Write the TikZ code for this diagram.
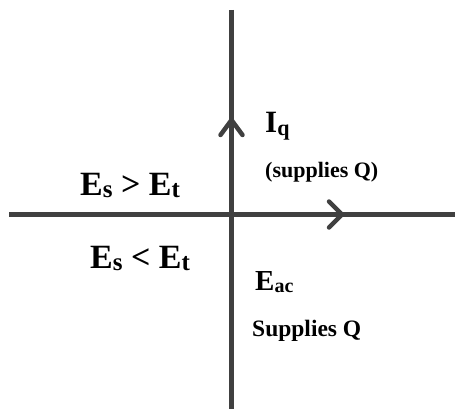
\documentclass[tikz,border=0pt]{standalone}
\usepackage{fontspec}
\setmainfont{Liberation Serif}
\definecolor{axisgray}{HTML}{404040}
\newcommand{\subtxt}[2]{\raisebox{-2pt}{\fontsize{#1}{#1}\selectfont #2}}
\tikzset{
  axisline/.style={draw=axisgray, line width=4.5pt},
  chevron/.style={draw=axisgray, line width=4.5pt, line cap=round, line join=miter},
  lbl/.style={inner sep=0pt, anchor=base west, font=\bfseries}
}
\begin{document}
\begin{tikzpicture}[x=1pt,y=-1pt]
\useasboundingbox (0,0) rectangle (455,409);
\coordinate (vtop) at (231.5,10);
\coordinate (vbot) at (231.5,409);
\coordinate (hleft) at (9,214.5);
\coordinate (hright) at (455,214.5);
\coordinate (uptip) at (231.5,120);
\coordinate (righttip) at (342,214.5);
\draw[axisline] (vtop) -- (vbot);
\draw[axisline] (hleft) -- (hright);
\draw[chevron] ([shift={(-11,15)}]uptip) -- (uptip) -- ([shift={(11,15)}]uptip);
\draw[chevron] ([shift={(-13,-13)}]righttip) -- (righttip) -- ([shift={(-13,13)}]righttip);
\node[lbl] (iq) at (265,133) {\fontsize{31}{31}\selectfont I\subtxt{22}{q}};
\node[lbl] (sup1) at (265,177) {\fontsize{22}{22}\selectfont (supplies Q)};
\node[lbl] (esgt) at (80,195) {\fontsize{34}{34}\selectfont E\subtxt{25}{s} \textgreater{} E\subtxt{25}{t}};
\node[lbl] (eslt) at (90,268) {\fontsize{34}{34}\selectfont E\subtxt{25}{s} \textless{} E\subtxt{25}{t}};
\node[lbl] (eac) at (255,290) {\fontsize{29}{29}\selectfont E\subtxt{20}{ac}};
\node[lbl] (sup2) at (252,336) {\fontsize{23.5}{23.5}\selectfont Supplies Q};
\end{tikzpicture}
\end{document}
